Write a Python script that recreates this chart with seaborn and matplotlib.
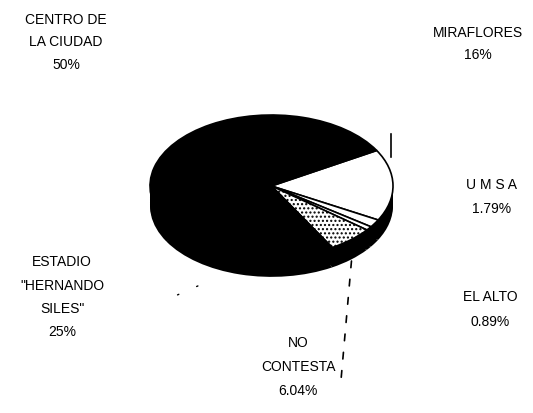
import numpy as np
import matplotlib
matplotlib.use("Agg")
import matplotlib.pyplot as plt
import seaborn as sns

# -----------------------
# DATA
# -----------------------
categories = ["MIRAFLORES", "U M S A", "EL ALTO", "NO\nCONTESTA",
              "ESTADIO\n\"HERNANDO\nSILES\"", "CENTRO DE\nLA CIUDAD"]
values = [16.28, 1.79, 0.89, 6.04, 25.0, 50.0]
pct_labels = ["16%", "1.79%", "0.89%", "6.04%", "25%", "50%"]

sns.set_theme(style="white")
plt.rcParams['font.family'] = ['Liberation Sans Narrow', 'Liberation Sans', 'DejaVu Sans']

W, H = 533, 413
fig = plt.figure(figsize=(W / 100, H / 100), dpi=100)
ax = fig.add_axes([0, 0, 1, 1])

# pie geometry in pixels (top face of the tilted pie)
cx, cy, sx, sy = 271.5, 186.0, 121.5, 71.0
depth = 0.28
start = 30

# side of the 3D pie: stacked black copies
for off in np.linspace(-depth, 0, 9)[:-1]:
    ax.pie(values, colors=['black'] * len(values), startangle=start,
           counterclock=False, center=(0, off),
           wedgeprops=dict(linewidth=0))

face_colors = ['white', 'white', 'white', 'white', 'black', 'black']
wedges, _ = ax.pie(values, colors=face_colors, startangle=start,
                   counterclock=False,
                   wedgeprops=dict(edgecolor='black', linewidth=1.2))
wedges[3].set_hatch('....')

ax.set_aspect('auto')
ax.set_xlim(-cx / sx, (W - cx) / sx)
ax.set_ylim((cy - H) / sy, cy / sy)
ax.axis('off')


def px(x, y):
    return x / W, 1 - y / H


# labels (category + percentage)
label_pos = {
    0: (478, 33, 22),
    1: (492, 185, 24),
    2: (490, 297, 25),
    3: (298, 343, 24),
    4: (62, 262, 23.5),
    5: (66, 20, 22.5),
}
for i, (x, y, step) in label_pos.items():
    lines = categories[i].split("\n") + [pct_labels[i]]
    for k, line in enumerate(lines):
        fig.text(*px(x, y + k * step), line, ha='center', va='center',
                 fontsize=10, color='black')

# leader lines
ax.annotate("", xy=px(352, 255), xytext=px(341, 380),
            xycoords='figure fraction', textcoords='figure fraction',
            arrowprops=dict(arrowstyle='-', color='black', lw=1.2,
                            linestyle=(0, (4, 7))))
ax.annotate("", xy=px(391, 131), xytext=px(391, 160),
            xycoords='figure fraction', textcoords='figure fraction',
            arrowprops=dict(arrowstyle='-', color='black', lw=1.2))
ax.annotate("", xy=px(216, 278), xytext=px(175, 296),
            xycoords='figure fraction', textcoords='figure fraction',
            arrowprops=dict(arrowstyle='-', color='black', lw=1,
                            linestyle=(0, (1, 14))))

fig.savefig("out.png", dpi=100)
